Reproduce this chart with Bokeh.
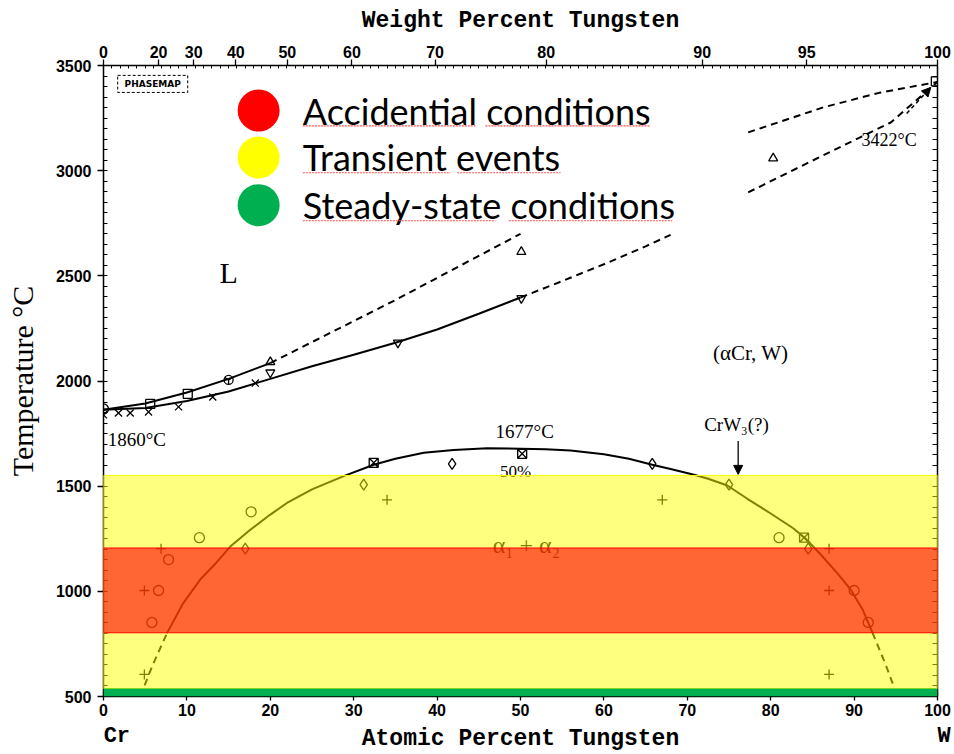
from bokeh.plotting import figure
from bokeh.models import (Range1d, LinearAxis, FixedTicker, BoxAnnotation,
                          Arrow, NormalHead)
from bokeh.core.properties import value
from bokeh.embed import file_html
from bokeh.resources import INLINE

# ---------------- axis data ----------------
atomic_major = list(range(0, 101, 10))
atomic_minor = list(range(0, 101, 1))
temp_major = list(range(500, 3501, 500))
temp_minor = list(range(500, 3501, 50))
weight_ticks = [0, 20, 30, 40, 50, 60, 70, 80, 90, 95, 100]
element_ticks = [1.6, 100]
element_labels = ["Cr", "\u2007W"]
M_W, M_CR = 183.84, 51.996


def wt_to_at(w):
    if w >= 100:
        return 100.0
    a = w / M_W
    b = (100 - w) / M_CR
    return round(100 * a / (a + b), 4)


weight_pos = [wt_to_at(w) for w in weight_ticks]

# ---------------- curves ----------------
liq_upper_solid_x = [0, 5, 10, 15, 20]
liq_upper_solid_t = [1863, 1893, 1945, 2010, 2085]
liq_upper_dash_x = [20, 25, 30, 35, 40, 45, 50]
liq_upper_dash_t = [2085, 2185, 2285, 2385, 2490, 2595, 2700]
liq_lower_solid_x = [0, 5, 10, 15, 20, 25, 30, 35, 40, 45, 50]
liq_lower_solid_t = [1863, 1872, 1905, 1950, 2010, 2070, 2125, 2182, 2245, 2320, 2397]
liq_lower_dash_x = [50, 55, 60, 65, 68]
liq_lower_dash_t = [2397, 2475, 2555, 2640, 2695]
w_upper_dash_x = [77.3, 86.3, 93, 100]
w_upper_dash_t = [3182, 3301, 3370, 3422]
w_lower_dash_x = [77.3, 86.3, 94.4, 100]
w_lower_dash_t = [2897, 3073, 3229, 3422]
gap_solid_x = [7.6, 9.5, 11.6, 13.5, 15.2, 17.6, 20, 22, 25, 28.8, 32.4, 35, 38.4, 42, 46, 50,
               53, 56, 60, 63, 65.8, 68, 70.8, 72.5, 74.8, 77.2, 80, 82.7, 84.2, 86, 88, 89.6, 91, 92.2]
gap_solid_t = [800, 940, 1056, 1135, 1213, 1293, 1365, 1420, 1485, 1548, 1602, 1630, 1659, 1672, 1680, 1678,
               1676, 1670, 1652, 1630, 1602, 1582, 1554, 1535, 1503, 1440, 1370, 1300, 1250, 1175, 1085, 1008, 915, 804]
gap_left_dash_x = [4.4, 5.9, 7.6]
gap_left_dash_t = [500, 650, 800]
gap_right_dash_x = [92.2, 93.8, 95.2]
gap_right_dash_t = [804, 650, 500]

# ---------------- experimental points ----------------
xmark_x = [0, 1.8, 3.2, 5.4, 9, 13.1, 18.2]
xmark_t = [1839, 1848, 1848, 1853, 1877, 1924, 1990]
square_x = [5.6, 10.1, 99.8]
square_t = [1891, 1939, 3425]
circy_x = [15]
circy_t = [2005]
tri_x = [20, 50.1, 80.3]
tri_t = [2090, 2614, 3059]
itri_x = [20, 35.3, 50.1]
itri_t = [2040, 2182, 2394]
sqx_x = [32.4, 50.2, 84]
sqx_t = [1611, 1654, 1255]
dia_x = [17, 31.2, 41.8, 65.8, 75, 84.5]
dia_t = [1203, 1507, 1606, 1606, 1507, 1203]
circ_x = [0, 5.8, 6.6, 7.8, 11.5, 17.7, 81, 90, 91.7]
circ_t = [1867, 852, 1004, 1151, 1255, 1378, 1255, 1004, 852]
plus_x = [4.9, 4.9, 6.9, 34, 67, 87, 87, 87]
plus_t = [605, 1004, 1203, 1435, 1435, 605, 1004, 1203]

# ---------------- condition bands ----------------
band_names = ["Transient events", "Accidential conditions", "Steady-state conditions"]
band_bottom = [538, 803, 500]
band_top = [1551, 1206, 538]
band_fill = ["#FFFF00", "#FF0000", "#00B050"]
band_alpha = [0.5, 0.6, 1.0]

# legend (order as shown)
legend_labels = ["Accidential conditions", "Transient events", "Steady-state conditions"]
legend_colors = ["#FF0000", "#FFFF00", "#00B050"]
legend_dot_x = [18.6, 18.6, 18.6]
legend_dot_t = [3286, 3063, 2836]
legend_text_x = [23.9, 23.9, 23.9]
legend_text_t = [3286, 3063, 2836]
# spell-check squiggles under each legend word: (x0, x1, T)
squiggle_x0 = [23.9, 45.8, 23.9, 42.4, 23.9, 48.6]
squiggle_x1 = [44.6, 65.6, 41.6, 54.8, 47.0, 68.2]
squiggle_t = [3213, 3213, 2990, 2990, 2762, 2762]

# annotations
note_text = ["1860°C", "1677°C", "50%", "(αCr, W)", "CrW₃(?)", "3422°C"]
note_x = [0.5, 50.5, 49.4, 77.6, 75.9, 94.2]
note_t = [1720, 1758, 1568, 2133, 1791, 3144]
note_size = ["19px", "19px", "17px", "21px", "19px", "18px"]
note_align = ["left", "center", "center", "center", "center", "center"]

p = figure(width=954, height=754, x_range=Range1d(0, 100), y_range=Range1d(500, 3500),
           output_backend="svg", toolbar_location=None,
           x_axis_location=None, y_axis_location=None,
           min_border_left=103, min_border_right=17, min_border_top=65, min_border_bottom=57,
           background_fill_color="white", border_fill_color="white")
p.outline_line_color = None
p.grid.visible = False

tick_font = dict(major_label_text_font="Liberation Sans", major_label_text_font_style="bold",
                 major_label_text_font_size="16px", major_label_text_color="black",
                 axis_label_text_color="black",
                 axis_line_color="black", axis_line_width=1.5,
                 major_tick_line_color="black", minor_tick_line_color="black",
                 major_tick_line_width=1.3, minor_tick_line_width=1)

bottom = LinearAxis(ticker=FixedTicker(ticks=atomic_major, minor_ticks=atomic_minor),
                    major_label_standoff=3, major_tick_out=4, major_tick_in=5,
                    minor_tick_in=3, minor_tick_out=0, **tick_font)
p.add_layout(bottom, "below")

# second row below: element names at the ends and the axis title on the same row
elements = LinearAxis(ticker=FixedTicker(ticks=element_ticks, minor_ticks=[]),
                      major_label_overrides={t: s for t, s in zip(element_ticks, element_labels)},
                      major_label_text_font="Liberation Mono", major_label_text_font_style="bold",
                      major_label_text_font_size="22px", major_label_text_color="black",
                      major_label_standoff=5, major_tick_out=0, major_tick_in=0,
                      axis_line_color=None, major_tick_line_color=None, minor_tick_line_color=None,
                      axis_label="Atomic Percent Tungsten", axis_label_text_color="black",
                      axis_label_text_font="Liberation Mono", axis_label_text_font_style="bold",
                      axis_label_text_font_size="23px", axis_label_standoff=-26)
p.add_layout(elements, "below")

top = LinearAxis(ticker=FixedTicker(ticks=weight_pos, minor_ticks=atomic_minor),
                 major_label_overrides={pos: str(w) for pos, w in zip(weight_pos, weight_ticks)},
                 axis_label="Weight Percent Tungsten",
                 axis_label_text_font="Liberation Mono", axis_label_text_font_style="bold",
                 axis_label_text_font_size="23px", axis_label_standoff=9,
                 major_label_standoff=2, major_tick_out=6, major_tick_in=0,
                 minor_tick_in=3, minor_tick_out=0, **tick_font)
p.add_layout(top, "above")

left = LinearAxis(ticker=FixedTicker(ticks=temp_major, minor_ticks=temp_minor),
                  axis_label="Temperature °C",
                  axis_label_text_font="Liberation Serif", axis_label_text_font_style="normal",
                  axis_label_text_font_size="30px", axis_label_standoff=14,
                  major_label_standoff=6, major_tick_out=6, major_tick_in=0,
                  minor_tick_in=4, minor_tick_out=0, **tick_font)
p.add_layout(left, "left")

right = LinearAxis(ticker=FixedTicker(ticks=[], minor_ticks=temp_minor),
                   minor_tick_in=5, minor_tick_out=0,
                   axis_line_color="black", axis_line_width=1.5,
                   minor_tick_line_color="black", minor_tick_line_width=1)
p.add_layout(right, "right")

# ---- curves ----
lw = 2
p.line(liq_upper_solid_x, liq_upper_solid_t, line_color="black", line_width=lw)
p.line(liq_upper_dash_x, liq_upper_dash_t, line_color="black", line_width=lw, line_dash="7 5")
p.line(liq_lower_solid_x, liq_lower_solid_t, line_color="black", line_width=lw)
p.line(liq_lower_dash_x, liq_lower_dash_t, line_color="black", line_width=lw, line_dash="7 5")
p.line(w_upper_dash_x, w_upper_dash_t, line_color="black", line_width=lw, line_dash="7 5")
p.line(w_lower_dash_x, w_lower_dash_t, line_color="black", line_width=lw, line_dash="7 5")
p.line(gap_solid_x, gap_solid_t, line_color="black", line_width=lw)
p.line(gap_left_dash_x, gap_left_dash_t, line_color="black", line_width=lw, line_dash="7 5")
p.line(gap_right_dash_x, gap_right_dash_t, line_color="black", line_width=lw, line_dash="7 5")

# ---- markers ----
mk = dict(line_color="black", fill_color=None, line_width=1.3)
p.scatter(xmark_x, xmark_t, marker="x", size=10, **mk)
p.scatter(square_x, square_t, marker="square", size=9, **mk)
p.scatter(circy_x, circy_t, marker="circle_y", size=9, **mk)
p.scatter(tri_x, tri_t, marker="triangle", size=9, **mk)
p.scatter(itri_x, itri_t, marker="inverted_triangle", size=9, **mk)
p.scatter(sqx_x, sqx_t, marker="square_x", size=9, **mk)
p.scatter(dia_x, dia_t, marker="diamond", size=11, **mk)
p.scatter(circ_x, circ_t, marker="circle", size=10, **mk)
p.scatter(plus_x, plus_t, marker="cross", size=10, **mk)

# ---- text notes ----
for t, x, y, s, a in zip(note_text, note_x, note_t, note_size, note_align):
    p.text([x], [y], text=[t], text_font=value("Liberation Serif"), text_font_size=s,
           text_align=a, text_baseline="middle", text_color="black")
p.text([15], [2518], text=["L"], text_font=value("Liberation Serif"), text_font_size="30px",
       text_align="center", text_baseline="middle", text_color="black")
p.text([50.7], [1222], text=["α₁ + α₂"], text_font=value("Liberation Serif"), text_font_size="24px",
       text_align="center", text_baseline="middle", text_color="black")

# PHASEMAP stamp
p.quad(left=[1.7], right=[10.1], top=[3453], bottom=[3372], fill_color=None,
       line_color="black", line_dash="3 2", line_width=1)
p.text([5.9], [3412], text=["PHASEMAP"], text_font=value("DejaVu Sans"), text_font_size="9px",
       text_font_style="bold", text_align="center", text_baseline="middle", text_color="black")

# arrows
p.add_layout(Arrow(end=NormalHead(size=9, fill_color="black", line_color="black"),
                   x_start=76.1, y_start=1715, x_end=76.1, y_end=1556,
                   line_color="black", line_width=1.3))
p.add_layout(Arrow(end=NormalHead(size=9, fill_color="black", line_color="black"),
                   x_start=96.3, y_start=3272, x_end=99.2, y_end=3396,
                   line_color="black", line_width=1.5, line_dash="4 3"))

# ---- bands (drawn over curves, semi-transparent) ----
for b, t, c, a in zip(band_bottom, band_top, band_fill, band_alpha):
    p.add_layout(BoxAnnotation(left=0, right=100, bottom=b, top=t, fill_color=c, fill_alpha=a,
                               line_color=c if c != "#00B050" else None, line_alpha=1,
                               line_width=1, level="annotation"))

# ---- legend ----
p.scatter(legend_dot_x, legend_dot_t, marker="circle", size=42, fill_color=legend_colors,
          line_color=None)
p.text(legend_text_x, legend_text_t, text=legend_labels, text_font=value("Lato"),
       text_font_size="36px", text_align="left", text_baseline="middle", text_color="black")
p.segment(x0=squiggle_x0, y0=squiggle_t, x1=squiggle_x1, y1=squiggle_t,
          line_color="#FF5050", line_width=1.2, line_dash="2 1")

open("out.html", "w").write(file_html(p, INLINE))
